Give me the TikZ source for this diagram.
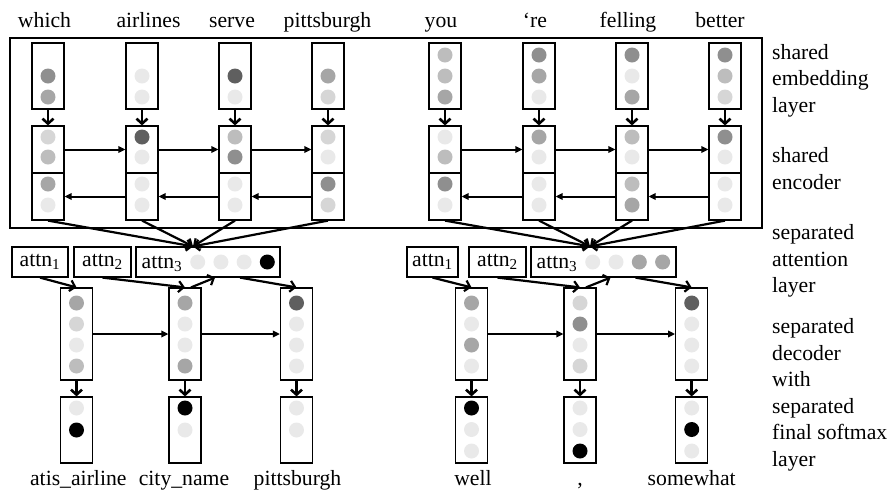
\documentclass[tikz,border=0pt]{standalone}
\usepackage{fontspec}
\setmainfont{Liberation Serif}
\usetikzlibrary{arrows.meta,calc}
\definecolor{gA}{HTML}{5F5F5F}
\definecolor{gB}{HTML}{8F8F8F}
\definecolor{gC}{HTML}{A6A6A6}
\definecolor{gD}{HTML}{BDBDBD}
\definecolor{gE}{HTML}{D6D6D6}
\definecolor{gF}{HTML}{E9E9E9}
% x, y0, step, colours (vertical stack of dots)
\newcommand\dotcol[4]{\foreach \cc [count=\ii from 0] in {#4}{\fill[\cc] (#1,{#2+#3*\ii}) circle[radius=7.5];}}
% x0, y, step, colours (horizontal row of dots)
\newcommand\dotrow[4]{\foreach \cc [count=\ii from 0] in {#4}{\fill[\cc] ({#1+#3*\ii},#2) circle[radius=7.5];}}
\begin{document}
\begin{tikzpicture}[x=1pt,y=-1pt,
  font=\fontsize{21.7}{26}\selectfont,
  box/.style={draw,line width=1.2pt,inner sep=0pt,minimum width=32pt},
  embbox/.style={box,minimum height=66pt},
  encbox/.style={box,minimum height=47pt},
  decbox/.style={box,minimum height=92pt},
  smbox/.style={box,minimum height=66pt},
  attnbox/.style={box,minimum height=30pt},
  wrd/.style={inner sep=0pt,anchor=base},
  side/.style={inner sep=0pt,anchor=base west},
  downarrow/.style={line width=2.6pt,-{Straight Barb[length=5pt,width=11pt]}},
  sidearrow/.style={line width=2pt,-{Triangle[length=7pt,width=6.5pt]}},
  convarrow/.style={line width=2.2pt,-{Straight Barb[length=5pt,width=11pt]}},
]
\useasboundingbox (0,0) rectangle (891,491);

% shared frame
\draw[line width=2pt] (10,38) rectangle (762,228);

% encoder columns
\foreach \n/\x in {L1/48,L2/142,L3/235,L4/328,R1/445,R2/539,R3/632,R4/725}{
  \node[embbox] (em\n) at (\x,76) {};
  \node[encbox] (ef\n) at (\x,149.5) {};
  \node[encbox] (eb\n) at (\x,196.5) {};
  \draw[downarrow] (em\n) -- (ef\n);
}
\foreach \a/\b in {L1/L2,L2/L3,L3/L4,R1/R2,R2/R3,R3/R4}{
  \draw[sidearrow] (ef\a) -- (ef\b);
  \draw[sidearrow] (eb\b) -- (eb\a);
}

% embedding dots
\dotcol{48}{76}{21}{gB,gC}
\dotcol{142}{76}{21}{gF,gF}
\dotcol{235}{76}{21}{gA,gF}
\dotcol{328}{76}{21}{gC,gE}
\dotcol{445}{55}{21}{gD,gD,gC}
\dotcol{539}{55}{21}{gB,gC,gF}
\dotcol{632}{55}{21}{gB,gF,gC}
\dotcol{725}{55}{21}{gB,gD,gE}
% encoder forward dots
\dotcol{48}{137}{20}{gE,gD}
\dotcol{142}{137}{20}{gA,gF}
\dotcol{235}{137}{20}{gD,gB}
\dotcol{328}{137}{20}{gE,gF}
\dotcol{445}{137}{20}{gF,gD}
\dotcol{539}{137}{20}{gC,gF}
\dotcol{632}{137}{20}{gD,gF}
\dotcol{725}{137}{20}{gB,gF}
% encoder backward dots
\dotcol{48}{184}{21}{gC,gF}
\dotcol{142}{184}{21}{gF,gF}
\dotcol{235}{184}{21}{gF,gF}
\dotcol{328}{184}{21}{gB,gE}
\dotcol{445}{184}{21}{gB,gF}
\dotcol{539}{184}{21}{gF,gF}
\dotcol{632}{184}{21}{gD,gC}
\dotcol{725}{184}{21}{gF,gF}

% top words
\node[wrd] (wL1) at (44.5,27) {which};
\node[wrd] (wL2) at (148.5,27) {airlines};
\node[wrd] (wL3) at (232,27) {serve};
\node[wrd] (wL4) at (327.5,27) {pittsburgh};
\node[wrd] (wR1) at (441,27) {you};
\node[wrd] (wR2) at (535,27) {‘re};
\node[wrd] (wR3) at (628,27) {felling};
\node[wrd] (wR4) at (720,27) {better};

% attention boxes
\node[attnbox,minimum width=56pt] (aL1) at (40,262) {attn\textsubscript{1}};
\node[attnbox,minimum width=57pt] (aL2) at (102.5,262) {attn\textsubscript{2}};
\node[attnbox,minimum width=144pt] (aL3) at (208,262) {};
\node[side] (tL3) at (141.5,268) {attn\textsubscript{3}};
\dotrow{197.7}{262}{23.2}{gF,gF,gF,black}
\node[attnbox,minimum width=51pt] (aR1) at (432.5,262) {attn\textsubscript{1}};
\node[attnbox,minimum width=57pt] (aR2) at (497.5,262) {attn\textsubscript{2}};
\node[attnbox,minimum width=145pt] (aR3) at (603.5,262) {};
\node[side] (tR3) at (536.5,268) {attn\textsubscript{3}};
\dotrow{592.7}{262}{23.3}{gF,gF,gC,gC}

% converging arrows
\coordinate (cL) at ([xshift=-15pt]aL3.north);
\coordinate (cR) at ([xshift=-13.5pt]aR3.north);
\foreach \n in {L1,L2,L3,L4}{\draw[convarrow] (eb\n.south) -- (cL);}
\foreach \n in {R1,R2,R3,R4}{\draw[convarrow] (eb\n.south) -- (cR);}

% decoders and softmax
\foreach \n/\x in {L1/76.5,L2/185,L3/296.5,R1/471.5,R2/580,R3/691.7}{
  \node[decbox] (d\n) at (\x,334) {};
  \node[smbox] (s\n) at (\x,430) {};
  \draw[downarrow] (d\n) -- (s\n);
}
\foreach \a/\b in {L1/L2,L2/L3,R1/R2,R2/R3}{\draw[sidearrow] (d\a) -- (d\b);}

\foreach \s in {L,R}{
  \draw[convarrow] (a\s1.south) -- (d\s1.north);
  \draw[convarrow] (a\s2.south) -- (d\s2.north);
  \draw[convarrow] ([xshift=6pt]d\s2.north) -- ([xshift=7pt]a\s3.south);
  \draw[convarrow] ([xshift=32pt]a\s3.south) -- (d\s3.north);
}

% decoder dots
\dotcol{76.5}{303}{21}{gC,gE,gF,gD}
\dotcol{185}{303}{21}{gC,gF,gF,gC}
\dotcol{296.5}{303}{21}{gA,gF,gF,gF}
\dotcol{471.5}{303}{21}{gC,gF,gC,gF}
\dotcol{580}{303}{21}{gE,gB,gF,gE}
\dotcol{691.7}{303}{21}{gA,gF,gF,gF}
% softmax dots
\dotcol{76.5}{408}{22}{gF,black}
\dotcol{185}{408}{22}{black,gF}
\dotcol{296.5}{408}{22}{gF,gF}
\dotcol{471.5}{408}{21.5}{black,gF,gF}
\dotcol{580}{408}{21.5}{gF,gF,black}
\dotcol{691.7}{408}{21.5}{gF,black,gF}

% output words
\node[wrd] (oL1) at (78.3,485) {atis\_airline};
\node[wrd] (oL2) at (184,485) {city\_name};
\node[wrd] (oL3) at (297.5,485) {pittsburgh};
\node[wrd] (oR1) at (473,485) {well};
\node[wrd] (oR2) at (580,485) {,};
\node[wrd] (oR3) at (691.7,485) {somewhat};

% side labels
\node[side] (k1) at (772,59) {shared};
\node[side] (k2) at (772,85.5) {embedding};
\node[side] (k3) at (772,112) {layer};
\node[side] (k4) at (772,162.5) {shared};
\node[side] (k5) at (772,189) {encoder};
\node[side] (k6) at (772,239.5) {separated};
\node[side] (k7) at (772,266) {attention};
\node[side] (k8) at (772,292.5) {layer};
\node[side] (k9) at (772,333.5) {separated};
\node[side] (k10) at (772,360) {decoder};
\node[side] (k11) at (772,386.5) {with};
\node[side] (k12) at (772,413) {separated};
\node[side] (k13) at (772,439.5) {final softmax};
\node[side] (k14) at (772,466) {layer};
\end{tikzpicture}
\end{document}
